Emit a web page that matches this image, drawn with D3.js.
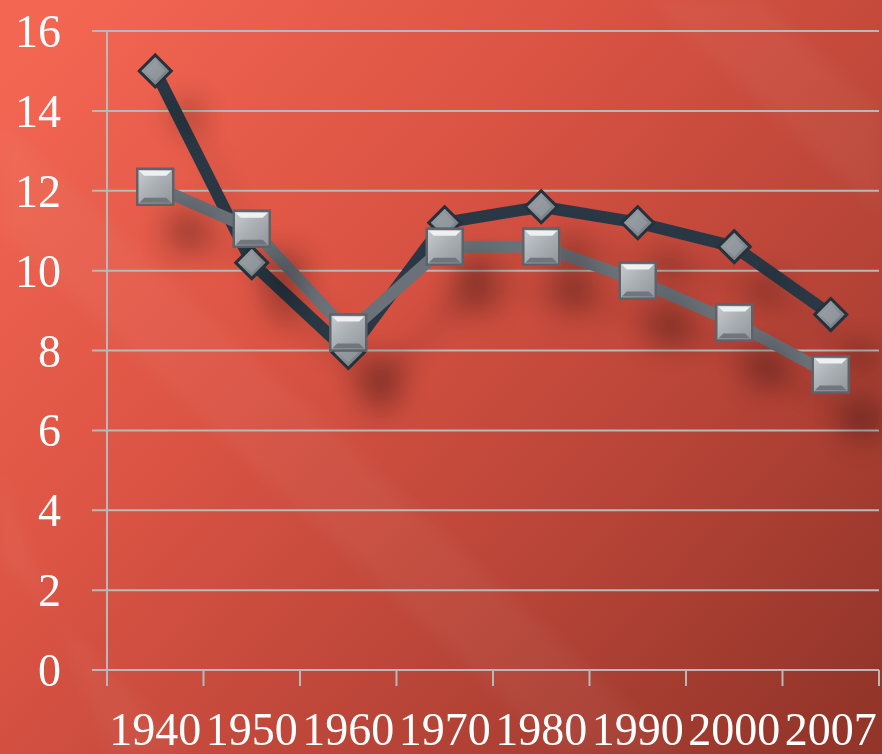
<!DOCTYPE html>
<html lang="en">
<head>
    <meta charset="UTF-8">
    <title>Line chart</title>
    <script src="https://d3js.org/d3.v7.min.js"></script>
    <style>
        body { margin: 0; background: #c9493a; }
        svg { display: block; }
        .tickLabel { font-family: "Liberation Serif", "DejaVu Serif", serif; fill: #fff; }
    </style>
</head>
<body>
<div id="chart"></div>
<script>
    var years = ["1940", "1950", "1960", "1970", "1980", "1990", "2000", "2007"];
    var darkSeries = [15.0, 10.2, 7.95, 11.2, 11.6, 11.2, 10.6, 8.9];
    var graySeries = [12.1, 11.05, 8.45, 10.6, 10.6, 9.75, 8.7, 7.4];
    var yTicks = [0, 2, 4, 6, 8, 10, 12, 14, 16];

    var W = 882, H = 754;
    var margin = {top: 31, right: 3, bottom: 84, left: 107};
    var width = W - margin.left - margin.right,
        height = H - margin.top - margin.bottom;

    var svg = d3.select("#chart").append("svg")
        .attr("width", W).attr("height", H);

    var defs = svg.append("defs");

    // background
    var bg = defs.append("linearGradient").attr("id", "bg")
        .attr("x1", "0").attr("y1", "0.1").attr("x2", "1").attr("y2", "0.9");
    bg.append("stop").attr("offset", "0").attr("stop-color", "#f36652");
    bg.append("stop").attr("offset", "0.35").attr("stop-color", "#dc5444");
    bg.append("stop").attr("offset", "0.7").attr("stop-color", "#b74437");
    bg.append("stop").attr("offset", "1").attr("stop-color", "#94352a");

    var sq = defs.append("linearGradient").attr("id", "sqFace")
        .attr("x1", "0").attr("y1", "0").attr("x2", "1").attr("y2", "1");
    sq.append("stop").attr("offset", "0").attr("stop-color", "#c9cdd0");
    sq.append("stop").attr("offset", "0.5").attr("stop-color", "#a9aeb2");
    sq.append("stop").attr("offset", "1").attr("stop-color", "#8f959a");

    var dm = defs.append("linearGradient").attr("id", "dmFace")
        .attr("x1", "0").attr("y1", "0").attr("x2", "1").attr("y2", "1");
    dm.append("stop").attr("offset", "0").attr("stop-color", "#a3a9ae");
    dm.append("stop").attr("offset", "1").attr("stop-color", "#6c737a");

    function makeShadow(id, slope, blur) {
        var sh = defs.append("filter").attr("id", id)
            .attr("x", "-30%").attr("y", "-30%").attr("width", "180%").attr("height", "180%");
        sh.append("feGaussianBlur").attr("in", "SourceAlpha").attr("stdDeviation", blur).attr("result", "b");
        sh.append("feOffset").attr("in", "b").attr("dx", 32).attr("dy", 44).attr("result", "o");
        sh.append("feComponentTransfer").attr("in", "o").attr("result", "s")
          .append("feFuncA").attr("type", "linear").attr("slope", slope);
        var mg = sh.append("feMerge");
        mg.append("feMergeNode").attr("in", "s");
        mg.append("feMergeNode").attr("in", "SourceGraphic");
    }
    makeShadow("lineShadow", 0.1, 12);
    makeShadow("markShadow", 0.32, 15);

    defs.append("filter").attr("id", "soft")
        .attr("x", "-10%").attr("y", "-10%").attr("width", "120%").attr("height", "120%")
        .append("feGaussianBlur").attr("stdDeviation", 8);

    svg.append("rect").attr("width", W).attr("height", H).attr("fill", "url(#bg)");
    // diagonal light streaks
    var streaks = svg.append("g").attr("filter", "url(#soft)").attr("fill", "#fff");
    streaks.append("polygon").attr("points", "0,120 0,230 562,754 680,754")
        .attr("opacity", 0.04);
    streaks.append("polygon").attr("points", "650,0 760,0 882,113 882,215")
        .attr("opacity", 0.04);
    streaks.append("polygon").attr("points", "0,470 0,560 190,754 110,754")
        .attr("opacity", 0.04);

    var g = svg.append("g")
        .attr("transform", "translate(" + margin.left + "," + margin.top + ")");

    var x = d3.scaleBand().domain(years).range([0, width]);
    var y = d3.scaleLinear().domain([0, 16]).range([height, 0]);

    // gridlines
    g.append("g").selectAll("line").data(yTicks).join("line")
        .attr("x1", -15).attr("x2", width)
        .attr("y1", d => y(d)).attr("y2", d => y(d))
        .attr("stroke", "#b8b8b8").attr("stroke-width", 2);

    // y axis line
    g.append("line").attr("x1", 0).attr("x2", 0).attr("y1", 0).attr("y2", height + 16)
        .attr("stroke", "#b8b8b8").attr("stroke-width", 2);

    // x ticks at band edges
    var edges = years.map(d => x(d)).concat([width]);
    g.append("g").selectAll("line").data(edges).join("line")
        .attr("x1", d => d).attr("x2", d => d)
        .attr("y1", height).attr("y2", height + 16)
        .attr("stroke", "#b8b8b8").attr("stroke-width", 2);

    // y labels
    g.append("g").selectAll("text").data(yTicks).join("text")
        .attr("class", "tickLabel")
        .attr("x", -46).attr("y", d => y(d))
        .attr("dy", "0.35em")
        .attr("text-anchor", "end")
        .attr("font-size", 46)
        .text(d => d);

    // x labels
    g.append("g").selectAll("text").data(years).join("text")
        .attr("class", "tickLabel")
        .attr("x", d => x(d) + x.bandwidth() / 2)
        .attr("y", height + 75)
        .attr("text-anchor", "middle")
        .attr("font-size", 46)
        .text(d => d);

    var line = d3.line()
        .x((d, i) => x(years[i]) + x.bandwidth() / 2)
        .y(d => y(d));

    var lines = g.append("g").attr("filter", "url(#lineShadow)");

    lines.append("path").datum(darkSeries)
        .attr("d", line).attr("fill", "none")
        .attr("stroke", "#2b3845").attr("stroke-width", 12)
        .attr("stroke-linejoin", "round");

    lines.append("path").datum(graySeries)
        .attr("d", line).attr("fill", "none")
        .attr("stroke", "#6b7178").attr("stroke-width", 12)
        .attr("stroke-linejoin", "round");

    var marks = g.append("g").attr("filter", "url(#markShadow)");

    // diamonds
    var ds = 16;
    var dGroups = marks.append("g").selectAll("g").data(darkSeries).join("g")
        .attr("transform", (d, i) => "translate(" + (x(years[i]) + x.bandwidth() / 2) + "," + y(d) + ")");
    dGroups.append("path")
        .attr("d", "M0," + (-ds) + "L" + ds + ",0L0," + ds + "L" + (-ds) + ",0Z")
        .attr("fill", "url(#dmFace)").attr("stroke", "#25303b").attr("stroke-width", 3);
    dGroups.append("path")
        .attr("d", "M0," + (-ds + 6) + "L" + (ds - 6) + ",0L0," + (ds - 6) + "L" + (-ds + 6) + ",0Z")
        .attr("fill", "#9aa0a5").attr("opacity", 0.6);

    // squares
    var s = 18;
    var sGroups = marks.append("g").selectAll("g").data(graySeries).join("g")
        .attr("transform", (d, i) => "translate(" + (x(years[i]) + x.bandwidth() / 2) + "," + y(d) + ")");
    sGroups.append("rect")
        .attr("x", -s).attr("y", -s).attr("width", 2 * s).attr("height", 2 * s)
        .attr("fill", "url(#sqFace)").attr("stroke", "#5d6369").attr("stroke-width", 2.5);
    // bevel top light
    sGroups.append("path")
        .attr("d", "M" + (-s + 2) + "," + (-s + 2) + "L" + (s - 2) + "," + (-s + 2) + "L" + (s - 7) + "," + (-s + 7) + "L" + (-s + 7) + "," + (-s + 7) + "Z")
        .attr("fill", "#eef0f1");
    // bevel bottom dark
    sGroups.append("path")
        .attr("d", "M" + (-s + 2) + "," + (s - 2) + "L" + (s - 2) + "," + (s - 2) + "L" + (s - 7) + "," + (s - 7) + "L" + (-s + 7) + "," + (s - 7) + "Z")
        .attr("fill", "#70767c");
</script>
</body>
</html>
